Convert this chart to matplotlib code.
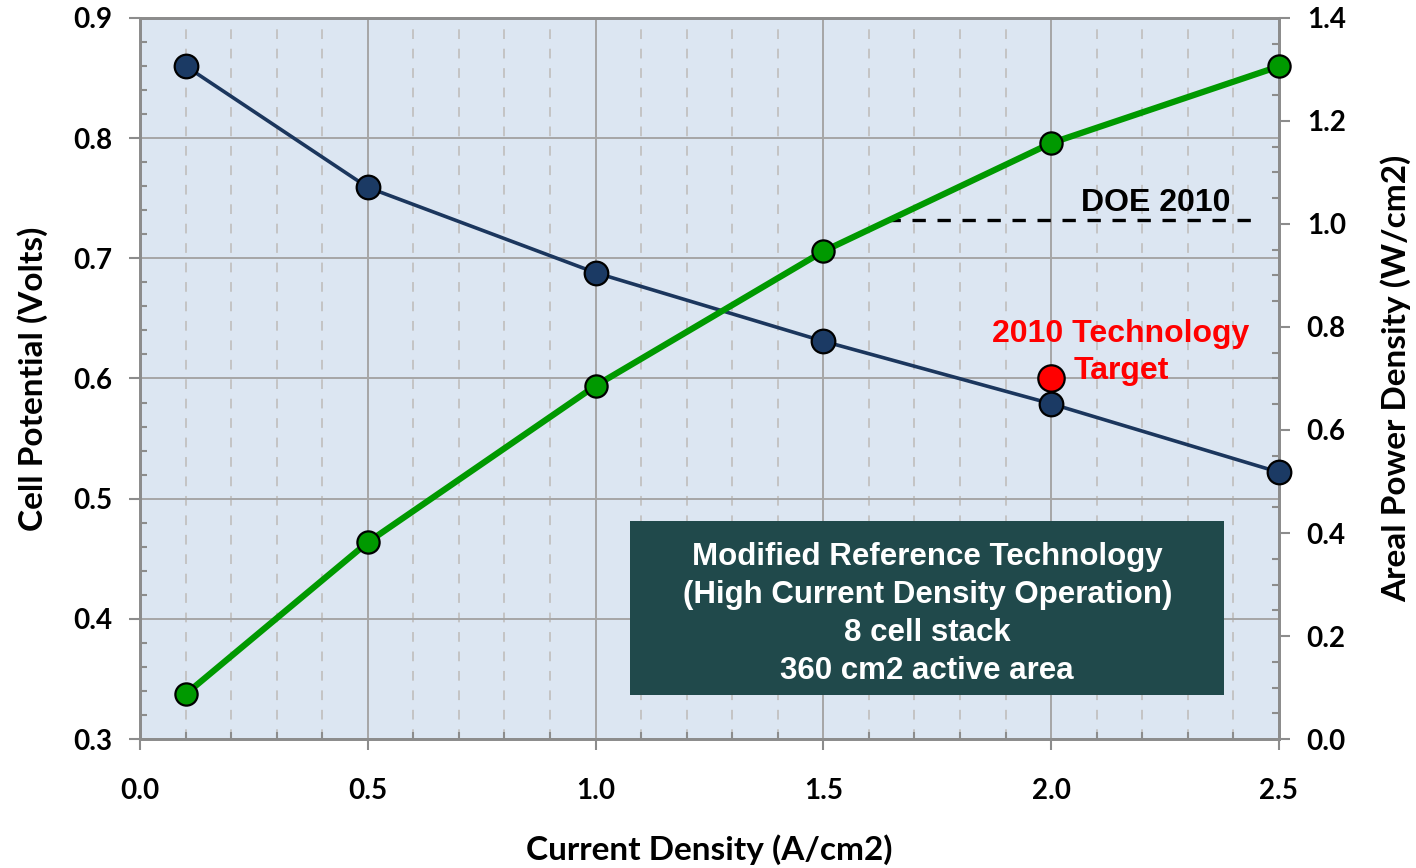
import matplotlib.pyplot as plt
from matplotlib.patches import Rectangle
from matplotlib.ticker import MultipleLocator

# data
current_density = [0.1, 0.5, 1.0, 1.5, 2.0, 2.5]
cell_potential = [0.860, 0.759, 0.688, 0.631, 0.579, 0.522]
power_density = [0.087, 0.382, 0.686, 0.947, 1.157, 1.306]

target_x = [2.0]
target_v = [0.60]

doe_x = [1.64, 2.45]
doe_power = [1.008, 1.008]

x_ticks = [0.0, 0.5, 1.0, 1.5, 2.0, 2.5]
left_ticks = [0.3, 0.4, 0.5, 0.6, 0.7, 0.8, 0.9]
right_ticks = [0.0, 0.2, 0.4, 0.6, 0.8, 1.0, 1.2, 1.4]

label_font = "Lato"
note_font = "Liberation Sans"
spine_col = "#8c8c8c"

fig = plt.figure(figsize=(14.16, 8.68), dpi=100)
ax = fig.add_axes([0.0989, 0.1486, 0.8043, 0.8307])
ax.set_facecolor("#dce6f2")

ax.set_xlim(0, 2.5)
ax.set_ylim(0.3, 0.9)
ax.set_xticks(x_ticks)
ax.set_yticks(left_ticks)
ax.xaxis.set_minor_locator(MultipleLocator(0.1))
ax.yaxis.set_minor_locator(MultipleLocator(0.02))

ax.grid(which="major", color="#a6a6a6", linewidth=1.4)
ax.grid(which="minor", axis="x", color="#c4c4c4", linestyle=(0, (5, 5)), linewidth=1.4)
ax.set_axisbelow(True)

for s in ax.spines.values():
    s.set_color(spine_col)
    s.set_linewidth(2)

ax.tick_params(which="major", direction="out", length=8, width=1.5, color=spine_col)
ax.tick_params(which="minor", direction="in", length=5, width=1.5, color=spine_col)
ax.tick_params(axis="y", which="major", pad=12)
ax.tick_params(axis="x", which="major", pad=20)
ax.set_xticklabels([f"{v:.1f}" for v in x_ticks], fontsize=20, fontweight="bold", family=label_font)
ax.set_yticklabels([f"{v:.1f}" for v in left_ticks], fontsize=20, fontweight="bold", family=label_font)

ax.set_xlabel("Current Density (A/cm2)", fontsize=24, fontweight="bold",
              family=label_font, labelpad=22)
ax.set_ylabel("Cell Potential (Volts)", fontsize=24, fontweight="bold",
              family=label_font, labelpad=18)

ax2 = ax.twinx()
ax2.set_ylim(0, 1.4)
ax2.set_yticks(right_ticks)
ax2.yaxis.set_minor_locator(MultipleLocator(0.05))
for s in ax2.spines.values():
    s.set_color(spine_col)
    s.set_linewidth(2)
ax2.tick_params(which="major", direction="out", length=8, width=1.5, color=spine_col, pad=12)
ax2.tick_params(which="minor", direction="in", length=5, width=1.5, color=spine_col)
ax2.set_yticklabels([f"{v:.1f}" for v in right_ticks], fontsize=20, fontweight="bold", family=label_font)
ax2.set_ylabel("Areal Power Density (W/cm2)", fontsize=24, fontweight="bold",
               family=label_font, labelpad=25)

ax2.plot(doe_x, doe_power, color="black", linewidth=2.4, linestyle=(0, (4, 3.5)), zorder=2)
ax2.text(2.23, 1.012, "DOE 2010", fontsize=23, fontweight="bold", family=note_font,
         ha="center", va="bottom")

# cell potential series: left-axis scale, but drawn in the top layer so the
# markers sit above the right spine like in the original
ax2.plot(current_density, cell_potential, transform=ax.transData,
         color="#1b365d", linewidth=2.6, marker="o", markersize=17,
         markerfacecolor="#1b3a64", markeredgecolor="black",
         markeredgewidth=1.6, zorder=3, clip_on=False)
ax2.plot(target_x, target_v, "o", transform=ax.transData, markersize=19,
         color="#ff0000", markeredgecolor="black", markeredgewidth=1.6, zorder=4)

ax2.plot(current_density, power_density, color="#009900", linewidth=4.5,
         marker="o", markersize=16, markerfacecolor="#009900",
         markeredgecolor="black", markeredgewidth=1.6, zorder=3, clip_on=False)

ax2.text(2.153, 0.6215, "2010 Technology\nTarget", transform=ax.transData,
         color="#ff0000", fontsize=23, fontweight="bold", family=note_font,
         ha="center", va="center", linespacing=1.3, zorder=6)

# info box
ax2.add_patch(Rectangle((1.0755, 0.0855), 1.3035, 0.338, facecolor="#20494b",
                        edgecolor="none", zorder=5))
ax2.text(1.728, 0.243,
         "Modified Reference Technology\n(High Current Density Operation)\n8 cell stack\n360 cm2 active area",
         color="white", fontsize=22.5, fontweight="bold", family=note_font,
         ha="center", va="center", linespacing=1.35, zorder=6)

fig.savefig("out.png", dpi=100)
